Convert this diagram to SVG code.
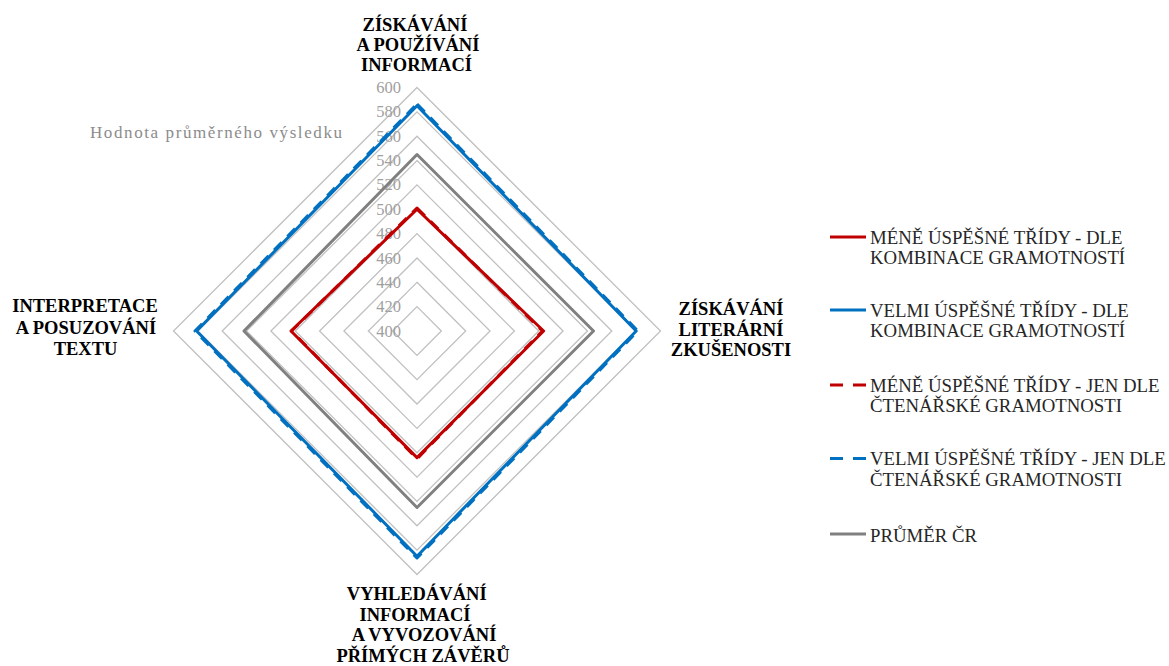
<svg xmlns="http://www.w3.org/2000/svg" width="1169" height="666" viewBox="0 0 1169 666">
<style>
.grid{fill:none;stroke:#c0c0c0;stroke-width:1.3}
.tick{font-family:"Liberation Serif",serif;font-size:16.5px;fill:#a0a0a0;text-anchor:end}
.axis{font-family:"Liberation Serif",serif;font-size:18.5px;font-weight:bold;fill:#000;text-anchor:middle}
.leg{font-family:"Liberation Serif",serif;font-size:18.8px;fill:#262626}
.s{fill:none;stroke-width:3;stroke-linejoin:round}
.red{stroke:#c00000}
.blue{stroke:#0070c0}
.gray{stroke:#808080}
.dash{stroke-dasharray:11 8}
</style>
<rect width="1169" height="666" fill="#fff"/>
<g id="grid">
<polygon class="grid" points="417,306.65 441.35,331 417,355.35 392.65,331"/>
<polygon class="grid" points="417,282.3 465.7,331 417,379.7 368.3,331"/>
<polygon class="grid" points="417,257.95 490.05,331 417,404.05 343.95,331"/>
<polygon class="grid" points="417,233.6 514.4,331 417,428.4 319.6,331"/>
<polygon class="grid" points="417,209.25 538.75,331 417,452.75 295.25,331"/>
<polygon class="grid" points="417,184.9 563.1,331 417,477.1 270.9,331"/>
<polygon class="grid" points="417,160.55 587.45,331 417,501.45 246.55,331"/>
<polygon class="grid" points="417,136.2 611.8,331 417,525.8 222.2,331"/>
<polygon class="grid" points="417,111.85 636.15,331 417,550.15 197.85,331"/>
<polygon class="grid" points="417,87.5 660.5,331 417,574.5 173.5,331"/>
</g>
<g id="ticks">
<text class="tick" x="401" y="336.5">400</text>
<text class="tick" x="401" y="312.2">420</text>
<text class="tick" x="401" y="287.8">440</text>
<text class="tick" x="401" y="263.5">460</text>
<text class="tick" x="401" y="239.1">480</text>
<text class="tick" x="401" y="214.8">500</text>
<text class="tick" x="401" y="190.4">520</text>
<text class="tick" x="401" y="166.1">540</text>
<text class="tick" x="401" y="141.7">560</text>
<text class="tick" x="401" y="117.4">580</text>
<text class="tick" x="401" y="93">600</text>
</g>
<text x="90" y="138" font-family="Liberation Serif, serif" font-size="17" fill="#8c8c8c" textLength="252">Hodnota průměrného výsledku</text>
<g id="axis-top">
<text class="axis" x="415" y="31">ZÍSKÁVÁNÍ</text>
<text class="axis" x="418" y="51">A POUŽÍVÁNÍ</text>
<text class="axis" x="416.5" y="71">INFORMACÍ</text>
</g>
<g id="axis-right">
<text class="axis" x="731" y="315">ZÍSKÁVÁNÍ</text>
<text class="axis" x="731" y="335.5">LITERÁRNÍ</text>
<text class="axis" x="731" y="356">ZKUŠENOSTI</text>
</g>
<g id="axis-bottom">
<text class="axis" x="416.7" y="600">VYHLEDÁVÁNÍ</text>
<text class="axis" x="415" y="620.5">INFORMACÍ</text>
<text class="axis" x="424" y="641">A VYVOZOVÁNÍ</text>
<text class="axis" x="423" y="661.5">PŘÍMÝCH ZÁVĚRŮ</text>
</g>
<g id="axis-left">
<text class="axis" x="85" y="312">INTERPRETACE</text>
<text class="axis" x="86" y="333.5">A POSUZOVÁNÍ</text>
<text class="axis" x="85.5" y="355">TEXTU</text>
</g>
<g id="series">
<polygon id="prumer" class="s gray" points="417,154.5 593.5,331 417,507.5 244,331"/>
<polygon id="mene-kombinace" class="s red" points="417,209.25 543.6,331 417,457.6 291,331"/>
<polygon id="mene-ctenarska" class="s red dash" points="417,208 542.4,331 417,458.8 291.6,331"/>
<polygon id="velmi-kombinace" class="s blue" points="417,105.8 636.2,331 417,556.2 196.6,331"/>
<polygon id="velmi-ctenarska" class="s blue dash" points="417,104 637.8,331 417,558 195,331"/>
</g>
<g id="legend">
<g id="leg1">
<line x1="830" y1="237" x2="866" y2="237" class="s red"/>
<text class="leg" x="870" y="243.5">MÉNĚ ÚSPĚŠNÉ TŘÍDY - DLE</text>
<text class="leg" x="870" y="263.5">KOMBINACE GRAMOTNOSTÍ</text>
</g>
<g id="leg2">
<line x1="830" y1="310" x2="866" y2="310" class="s blue"/>
<text class="leg" x="870" y="316.5">VELMI ÚSPĚŠNÉ TŘÍDY - DLE</text>
<text class="leg" x="870" y="336.5">KOMBINACE GRAMOTNOSTÍ</text>
</g>
<g id="leg3">
<line x1="830" y1="385" x2="866" y2="385" class="s red" stroke-dasharray="13 10"/>
<text class="leg" x="870" y="391.5">MÉNĚ ÚSPĚŠNÉ TŘÍDY - JEN DLE</text>
<text class="leg" x="870" y="411.5">ČTENÁŘSKÉ GRAMOTNOSTI</text>
</g>
<g id="leg4">
<line x1="830" y1="458.5" x2="866" y2="458.5" class="s blue" stroke-dasharray="13 10"/>
<text class="leg" x="870" y="465">VELMI ÚSPĚŠNÉ TŘÍDY - JEN DLE</text>
<text class="leg" x="870" y="486">ČTENÁŘSKÉ GRAMOTNOSTI</text>
</g>
<g id="leg5">
<line x1="830" y1="534" x2="866" y2="534" class="s gray"/>
<text class="leg" x="870" y="541.5">PRŮMĚR ČR</text>
</g>
</g>
</svg>
